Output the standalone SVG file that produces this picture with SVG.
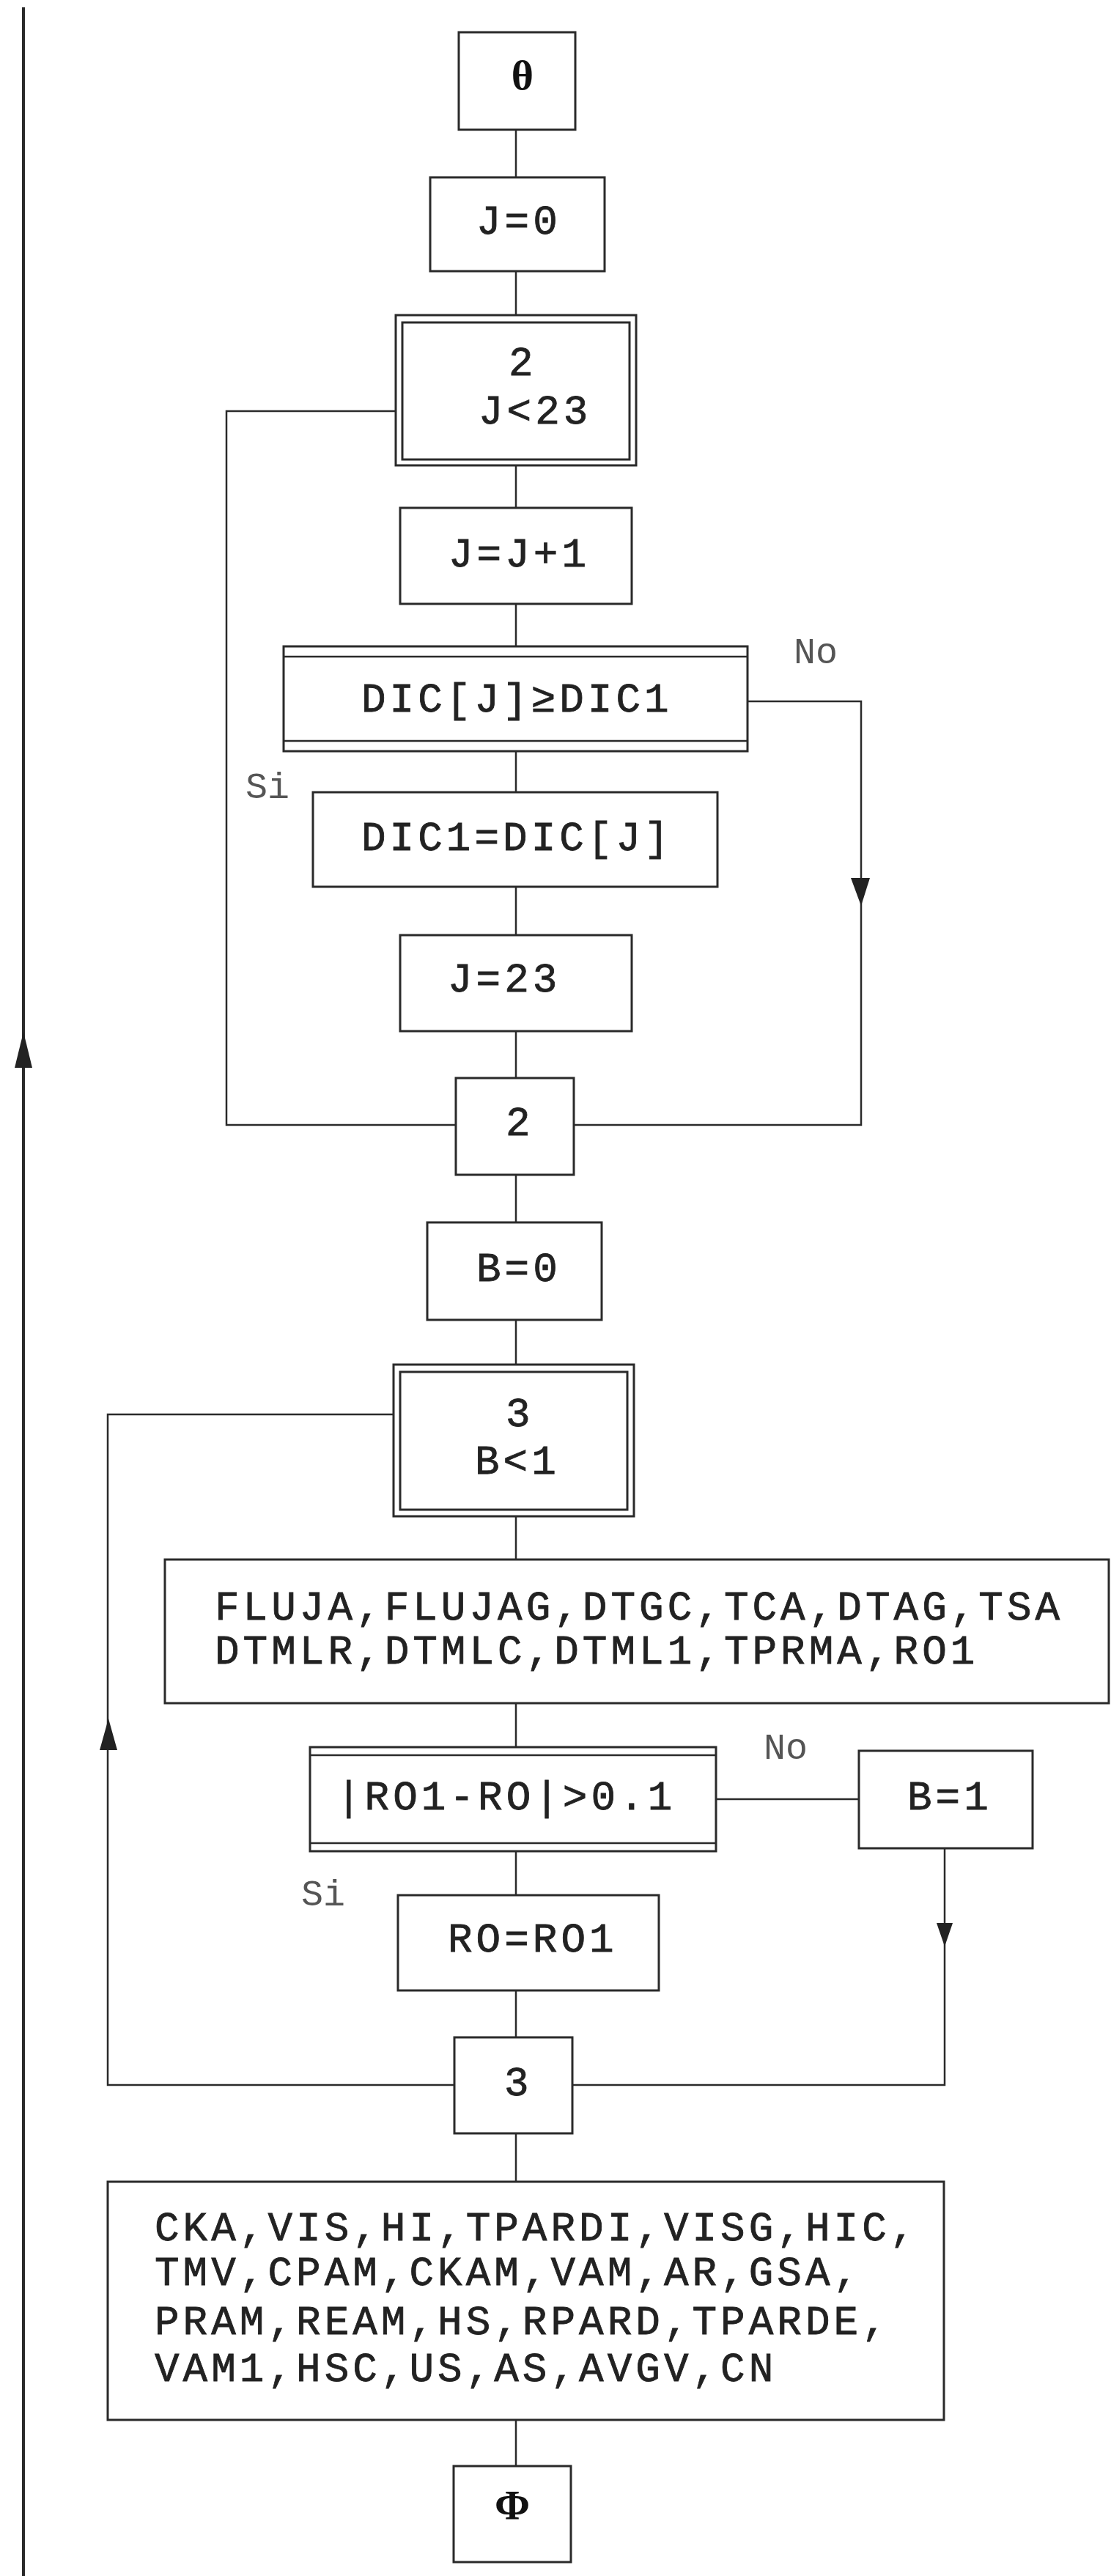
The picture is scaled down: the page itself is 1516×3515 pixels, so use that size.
<svg xmlns="http://www.w3.org/2000/svg" width="1516" height="3515" viewBox="0 0 1516 3515">
<style>
.box{fill:none;stroke:#2a2a2a;stroke-width:3}
.ln{fill:none;stroke:#2a2a2a;stroke-width:2.5}
.t{font-family:"Liberation Mono","DejaVu Sans Mono",monospace;font-size:56px;letter-spacing:5px;fill:#222;stroke:#222;stroke-width:0.8}
.lb{font-family:"Liberation Mono","DejaVu Sans Mono",monospace;font-size:50px;fill:#555}
.sym{font-family:"Liberation Serif","DejaVu Serif",serif;font-size:58px;font-weight:bold;fill:#111}
.ah{fill:#222}
</style>
<rect width="1516" height="3515" fill="#ffffff"/>
<g id="connectors">
<line x1="32" y1="10" x2="32" y2="3515" stroke="#2a2a2a" stroke-width="4"/>
<path class="ah" d="M32,1408 L44,1457 L20,1457 Z"/>
<path class="ln" d="M704,177 V242 M704,370 V430 M704,635 V693 M704,824 V882 M704,1025 V1081 M704,1210 V1276 M704,1407 V1471 M704,1603 V1668 M704,1801 V1862 M704,2069 V2128 M704,2324 V2384 M704,2526 V2586 M704,2716 V2780 M704,2911 V2977 M704,3302 V3365"/>
<polyline class="ln" points="540,561 309,561 309,1535 622,1535"/>
<polyline class="ln" points="1020,957 1175,957 1175,1535 783,1535"/>
<path class="ah" d="M1161,1198 L1187,1198 L1175,1236 Z"/>
<polyline class="ln" points="537,1930 147,1930 147,2845 620,2845"/>
<path class="ah" d="M148,2345 L160,2388 L136,2388 Z"/>
<line class="ln" x1="977" y1="2455" x2="1172" y2="2455"/>
<polyline class="ln" points="1289,2522 1289,2845 781,2845"/>
<path class="ah" d="M1278,2624 L1300,2624 L1289,2656 Z"/>
</g>
<g id="start">
<rect class="box" x="626" y="44" width="159" height="133"/>
<text class="sym" x="713" y="122" text-anchor="middle">θ</text>
</g>
<g id="j0">
<rect class="box" x="587" y="242" width="238" height="128"/>
<text class="t" x="650" y="319">J=0</text>
</g>
<g id="loop2">
<rect class="box" x="540" y="430" width="328" height="205"/>
<rect class="box" x="549" y="440" width="310" height="187"/>
<text class="t" x="694" y="512">2</text>
<text class="t" x="653" y="578">J&lt;23</text>
</g>
<g id="jinc">
<rect class="box" x="546" y="693" width="316" height="131"/>
<text class="t" x="612" y="773">J=J+1</text>
</g>
<g id="cond1">
<rect class="box" x="387" y="882" width="633" height="143"/>
<line class="ln" x1="387" y1="896" x2="1020" y2="896"/>
<line class="ln" x1="387" y1="1011" x2="1020" y2="1011"/>
<text class="t" x="493" y="971">DIC[J]≥DIC1</text>
<text class="lb" x="1083" y="905">No</text>
<text class="lb" x="335" y="1089">Si</text>
</g>
<g id="assign1">
<rect class="box" x="427" y="1081" width="552" height="129"/>
<text class="t" x="493" y="1160">DIC1=DIC[J]</text>
</g>
<g id="j23">
<rect class="box" x="546" y="1276" width="316" height="131"/>
<text class="t" x="611" y="1353">J=23</text>
</g>
<g id="end2">
<rect class="box" x="622" y="1471" width="161" height="132"/>
<text class="t" x="690" y="1549">2</text>
</g>
<g id="b0">
<rect class="box" x="583" y="1668" width="238" height="133"/>
<text class="t" x="650" y="1748">B=0</text>
</g>
<g id="loop3">
<rect class="box" x="537" y="1862" width="328" height="207"/>
<rect class="box" x="546" y="1872" width="310" height="188"/>
<text class="t" x="690" y="1946">3</text>
<text class="t" x="648" y="2011">B&lt;1</text>
</g>
<g id="calc1">
<rect class="box" x="225" y="2128" width="1288" height="196"/>
<text class="t" x="293" y="2210">FLUJA,FLUJAG,DTGC,TCA,DTAG,TSA</text>
<text class="t" x="293" y="2270">DTMLR,DTMLC,DTML1,TPRMA,RO1</text>
</g>
<g id="cond2">
<rect class="box" x="423" y="2384" width="554" height="142"/>
<line class="ln" x1="423" y1="2395" x2="977" y2="2395"/>
<line class="ln" x1="423" y1="2515" x2="977" y2="2515"/>
<text class="t" x="459" y="2469">|RO1-RO|&gt;0.1</text>
<text class="lb" x="1042" y="2400">No</text>
<text class="lb" x="411" y="2600">Si</text>
</g>
<g id="b1">
<rect class="box" x="1172" y="2389" width="237" height="133"/>
<text class="t" x="1238" y="2469">B=1</text>
</g>
<g id="assign2">
<rect class="box" x="543" y="2586" width="356" height="130"/>
<text class="t" x="611" y="2663">RO=RO1</text>
</g>
<g id="end3">
<rect class="box" x="620" y="2780" width="161" height="131"/>
<text class="t" x="688" y="2859">3</text>
</g>
<g id="calc2">
<rect class="box" x="147" y="2977" width="1141" height="325"/>
<text class="t" x="211" y="3057">CKA,VIS,HI,TPARDI,VISG,HIC,</text>
<text class="t" x="211" y="3118">TMV,CPAM,CKAM,VAM,AR,GSA,</text>
<text class="t" x="211" y="3185">PRAM,REAM,HS,RPARD,TPARDE,</text>
<text class="t" x="211" y="3249">VAM1,HSC,US,AS,AVGV,CN</text>
</g>
<g id="end">
<rect class="box" x="619" y="3365" width="160" height="131"/>
<text class="sym" x="699" y="3438" text-anchor="middle" font-size="50">Φ</text>
</g>
</svg>
